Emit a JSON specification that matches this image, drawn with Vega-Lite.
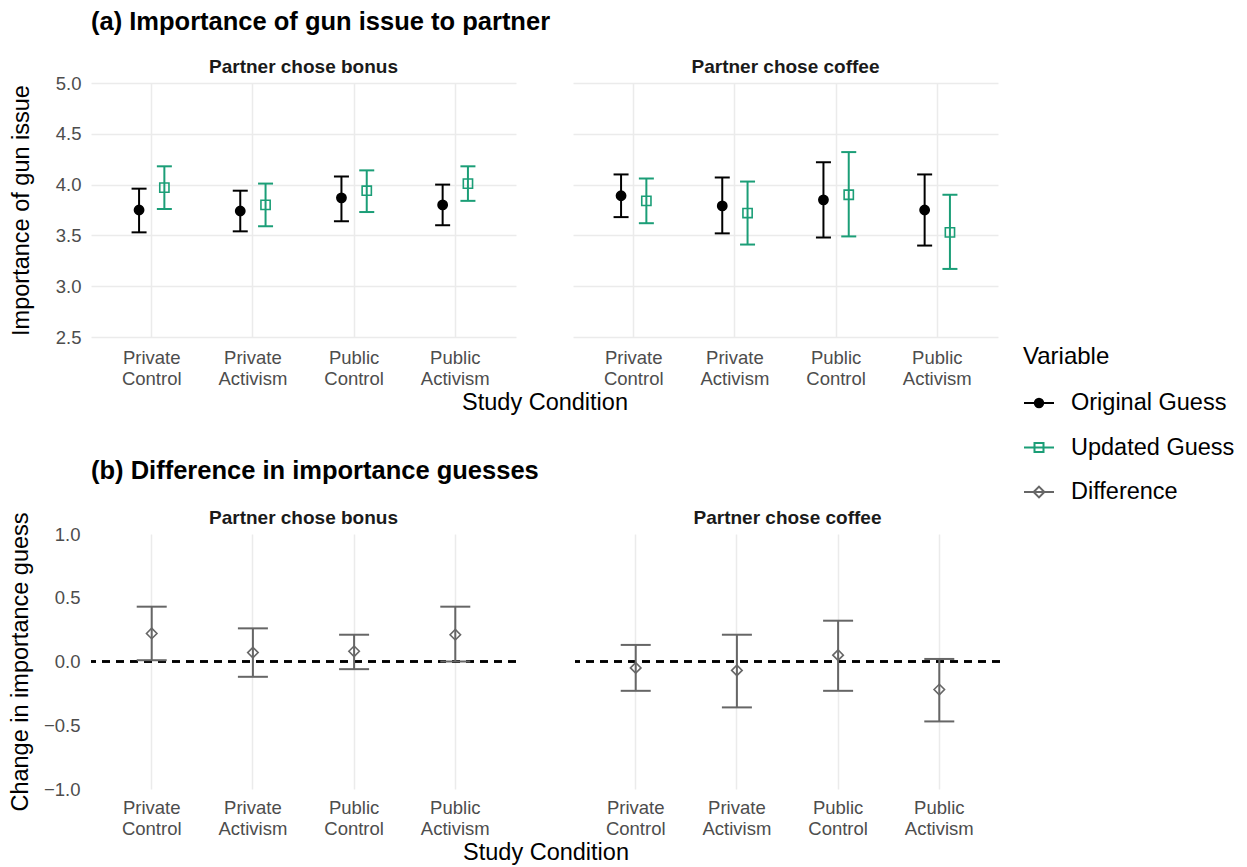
{
  "$schema": "https://vega.github.io/schema/vega-lite/v6.json",
  "background": "white",
  "padding": {"left": 7, "top": 9, "right": 5, "bottom": 5},
  "config": {
    "font": "Liberation Sans",
    "view": {"stroke": null},
    "axis": {"domain": false, "ticks": false, "gridColor": "#ebebeb", "gridWidth": 1.5, "labelColor": "#4d4d4d", "labelFontSize": 18.5, "titleFontSize": 23.5, "titleFontWeight": "normal", "titleColor": "black"},
    "header": {"labelFontSize": 19, "labelFontWeight": "bold", "labelColor": "#1a1a1a", "labelPadding": 6, "labelOrient": "top", "titleOrient": "bottom", "titleFontSize": 23.5, "titleFontWeight": "normal", "titleColor": "black", "titlePadding": -7},
    "title": {"anchor": "start", "frame": "group", "fontSize": 25.5, "fontWeight": "bold", "color": "black", "offset": 23},
    "legend": {"orient": "none", "legendX": 932, "legendY": 262, "titleFontSize": 24, "titleFontWeight": "normal", "titleColor": "black", "labelFontSize": 23.5, "labelColor": "black", "labelLimit": 400, "symbolSize": 900, "symbolStrokeWidth": 2, "symbolOpacity": 1, "rowPadding": 16.5, "labelOffset": 16, "titlePadding": 18}
  },
  "datasets": {
    "guess": [
      {"panel": "Partner chose bonus", "cond": "Private Control", "var": "Original Guess", "est": 3.75, "lo": 3.53, "hi": 3.96},
      {"panel": "Partner chose bonus", "cond": "Private Control", "var": "Updated Guess", "est": 3.97, "lo": 3.76, "hi": 4.18},
      {"panel": "Partner chose bonus", "cond": "Private Activism", "var": "Original Guess", "est": 3.74, "lo": 3.54, "hi": 3.94},
      {"panel": "Partner chose bonus", "cond": "Private Activism", "var": "Updated Guess", "est": 3.80, "lo": 3.59, "hi": 4.01},
      {"panel": "Partner chose bonus", "cond": "Public Control", "var": "Original Guess", "est": 3.87, "lo": 3.64, "hi": 4.08},
      {"panel": "Partner chose bonus", "cond": "Public Control", "var": "Updated Guess", "est": 3.94, "lo": 3.73, "hi": 4.14},
      {"panel": "Partner chose bonus", "cond": "Public Activism", "var": "Original Guess", "est": 3.80, "lo": 3.60, "hi": 4.00},
      {"panel": "Partner chose bonus", "cond": "Public Activism", "var": "Updated Guess", "est": 4.01, "lo": 3.84, "hi": 4.18},
      {"panel": "Partner chose coffee", "cond": "Private Control", "var": "Original Guess", "est": 3.89, "lo": 3.68, "hi": 4.10},
      {"panel": "Partner chose coffee", "cond": "Private Control", "var": "Updated Guess", "est": 3.84, "lo": 3.62, "hi": 4.06},
      {"panel": "Partner chose coffee", "cond": "Private Activism", "var": "Original Guess", "est": 3.79, "lo": 3.52, "hi": 4.07},
      {"panel": "Partner chose coffee", "cond": "Private Activism", "var": "Updated Guess", "est": 3.72, "lo": 3.41, "hi": 4.03},
      {"panel": "Partner chose coffee", "cond": "Public Control", "var": "Original Guess", "est": 3.85, "lo": 3.48, "hi": 4.22},
      {"panel": "Partner chose coffee", "cond": "Public Control", "var": "Updated Guess", "est": 3.90, "lo": 3.49, "hi": 4.32},
      {"panel": "Partner chose coffee", "cond": "Public Activism", "var": "Original Guess", "est": 3.75, "lo": 3.40, "hi": 4.10},
      {"panel": "Partner chose coffee", "cond": "Public Activism", "var": "Updated Guess", "est": 3.53, "lo": 3.17, "hi": 3.90}
    ],
    "diff": [
      {"panel": "Partner chose bonus", "cond": "Private Control", "var": "Difference", "est": 0.22, "lo": 0.01, "hi": 0.43},
      {"panel": "Partner chose bonus", "cond": "Private Activism", "var": "Difference", "est": 0.07, "lo": -0.12, "hi": 0.26},
      {"panel": "Partner chose bonus", "cond": "Public Control", "var": "Difference", "est": 0.08, "lo": -0.06, "hi": 0.21},
      {"panel": "Partner chose bonus", "cond": "Public Activism", "var": "Difference", "est": 0.21, "lo": 0.00, "hi": 0.43},
      {"panel": "Partner chose coffee", "cond": "Private Control", "var": "Difference", "est": -0.05, "lo": -0.23, "hi": 0.13},
      {"panel": "Partner chose coffee", "cond": "Private Activism", "var": "Difference", "est": -0.07, "lo": -0.36, "hi": 0.21},
      {"panel": "Partner chose coffee", "cond": "Public Control", "var": "Difference", "est": 0.05, "lo": -0.23, "hi": 0.32},
      {"panel": "Partner chose coffee", "cond": "Public Activism", "var": "Difference", "est": -0.22, "lo": -0.47, "hi": 0.02}
    ]
  },
  "spacing": 43,
  "vconcat": [
    {
      "title": {"text": "(a) Importance of gun issue to partner"},
      "data": {"name": "guess"},
      "facet": {"column": {"field": "panel", "type": "nominal", "title": "Study Condition"}},
      "spacing": 57,
      "spec": {
        "width": 425,
        "height": 254,
        "encoding": {
          "x": {"field": "cond", "type": "nominal", "sort": ["Private Control", "Private Activism", "Public Control", "Public Activism"], "scale": {"type": "band", "paddingInner": 0, "paddingOuter": 0.1}, "axis": {"title": null, "labelAngle": 0, "labelExpr": "split(datum.label, ' ')", "bandPosition": 0.5, "grid": true, "labelPadding": 11, "labelLineHeight": 21}},
          "xOffset": {"field": "var", "type": "nominal", "scale": {"domain": ["Original Guess", "Updated Guess"], "paddingInner": 0, "paddingOuter": 1.806}}
        },
        "layer": [
          {"mark": {"type": "point", "filled": false, "opacity": 0},
            "encoding": {
              "y": {"field": "est", "type": "quantitative", "scale": {"domain": [2.5, 5], "nice": false, "zero": false}, "axis": {"title": "Importance of gun issue", "values": [2.5, 3, 3.5, 4, 4.5, 5], "format": ".1f", "labelPadding": 10, "minExtent": 44, "maxExtent": 44, "titlePadding": 14}},
              "color": {"field": "var", "type": "nominal", "title": "Variable", "scale": {"domain": ["Original Guess", "Updated Guess", "Difference"], "range": ["#000000", "#1B9E77", "#666666"]}},
              "fill": {"field": "var", "type": "nominal", "title": "Variable", "scale": {"domain": ["Original Guess", "Updated Guess", "Difference"], "range": ["#000000", "transparent", "transparent"]}},
              "shape": {"field": "var", "type": "nominal", "title": "Variable", "scale": {"domain": ["Original Guess", "Updated Guess", "Difference"], "range": ["M-1,0L1,0M0.28,0A0.28,0.28,0,1,1,-0.28,0A0.28,0.28,0,1,1,0.28,0Z", "M-1,0L1,0M-0.3,-0.3L0.3,-0.3L0.3,0.3L-0.3,0.3Z", "M-1,0L1,0M0,-0.36L0.36,0L0,0.36L-0.36,0Z"]}}
            }},
          {"mark": {"type": "rule", "strokeWidth": 2}, "encoding": {"y": {"field": "lo", "type": "quantitative", "axis": {"title": "Importance of gun issue"}}, "y2": {"field": "hi"}, "color": {"condition": {"test": "datum.var === 'Original Guess'", "value": "#000000"}, "value": "#1B9E77"}}},
          {"mark": {"type": "tick", "thickness": 2, "size": 15, "opacity": 1}, "encoding": {"y": {"field": "lo", "type": "quantitative", "axis": {"title": "Importance of gun issue"}}, "color": {"condition": {"test": "datum.var === 'Original Guess'", "value": "#000000"}, "value": "#1B9E77"}}},
          {"mark": {"type": "tick", "thickness": 2, "size": 15, "opacity": 1}, "encoding": {"y": {"field": "hi", "type": "quantitative", "axis": {"title": "Importance of gun issue"}}, "color": {"condition": {"test": "datum.var === 'Original Guess'", "value": "#000000"}, "value": "#1B9E77"}}},
          {"mark": {"type": "point", "filled": false, "strokeWidth": 1.6, "size": 85, "opacity": 1},
            "encoding": {"y": {"field": "est", "type": "quantitative", "axis": {"title": "Importance of gun issue"}},
              "stroke": {"condition": {"test": "datum.var === 'Original Guess'", "value": "#000000"}, "value": "#1B9E77"},
              "shape": {"condition": {"test": "datum.var === 'Original Guess'", "value": "circle"}, "value": "square"},
              "fill": {"condition": {"test": "datum.var === 'Original Guess'", "value": "#000000"}, "value": "transparent"}}}
        ]
      }
    },
    {
      "title": {"text": "(b) Difference in importance guesses", "offset": 25},
      "data": {"name": "diff"},
      "facet": {"column": {"field": "panel", "type": "nominal", "title": "Study Condition"}},
      "spacing": 57,
      "spec": {
        "width": 425,
        "height": 255,
        "encoding": {
          "x": {"field": "cond", "type": "nominal", "sort": ["Private Control", "Private Activism", "Public Control", "Public Activism"], "scale": {"type": "band", "paddingInner": 0, "paddingOuter": 0.1}, "axis": {"title": null, "labelAngle": 0, "labelExpr": "split(datum.label, ' ')", "bandPosition": 0.5, "grid": true, "labelPadding": 9, "labelLineHeight": 21}}
        },
        "layer": [
          {"mark": {"type": "rule", "strokeDash": [8, 6], "strokeWidth": 2, "color": "black"}, "encoding": {"x": null, "y": {"datum": 0, "type": "quantitative", "scale": {"domain": [-1, 1], "nice": false}, "axis": {"title": "Change in importance guess", "values": [-1, -0.5, 0, 0.5, 1], "format": ".1f", "labelPadding": 10, "minExtent": 44, "maxExtent": 44, "titlePadding": 14}}}},
          {"mark": {"type": "rule", "strokeWidth": 2, "color": "#666666"}, "encoding": {"y": {"field": "lo", "type": "quantitative", "axis": {"title": "Change in importance guess"}}, "y2": {"field": "hi"}}},
          {"mark": {"type": "tick", "thickness": 2, "size": 30, "opacity": 1, "color": "#666666"}, "encoding": {"y": {"field": "lo", "type": "quantitative", "axis": {"title": "Change in importance guess"}}}},
          {"mark": {"type": "tick", "thickness": 2, "size": 30, "opacity": 1, "color": "#666666"}, "encoding": {"y": {"field": "hi", "type": "quantitative", "axis": {"title": "Change in importance guess"}}}},
          {"mark": {"type": "point", "filled": false, "shape": "diamond", "strokeWidth": 1.6, "size": 110, "opacity": 1, "color": "#666666"}, "encoding": {"y": {"field": "est", "type": "quantitative", "axis": {"title": "Change in importance guess"}}}}
        ]
      }
    }
  ]
}
